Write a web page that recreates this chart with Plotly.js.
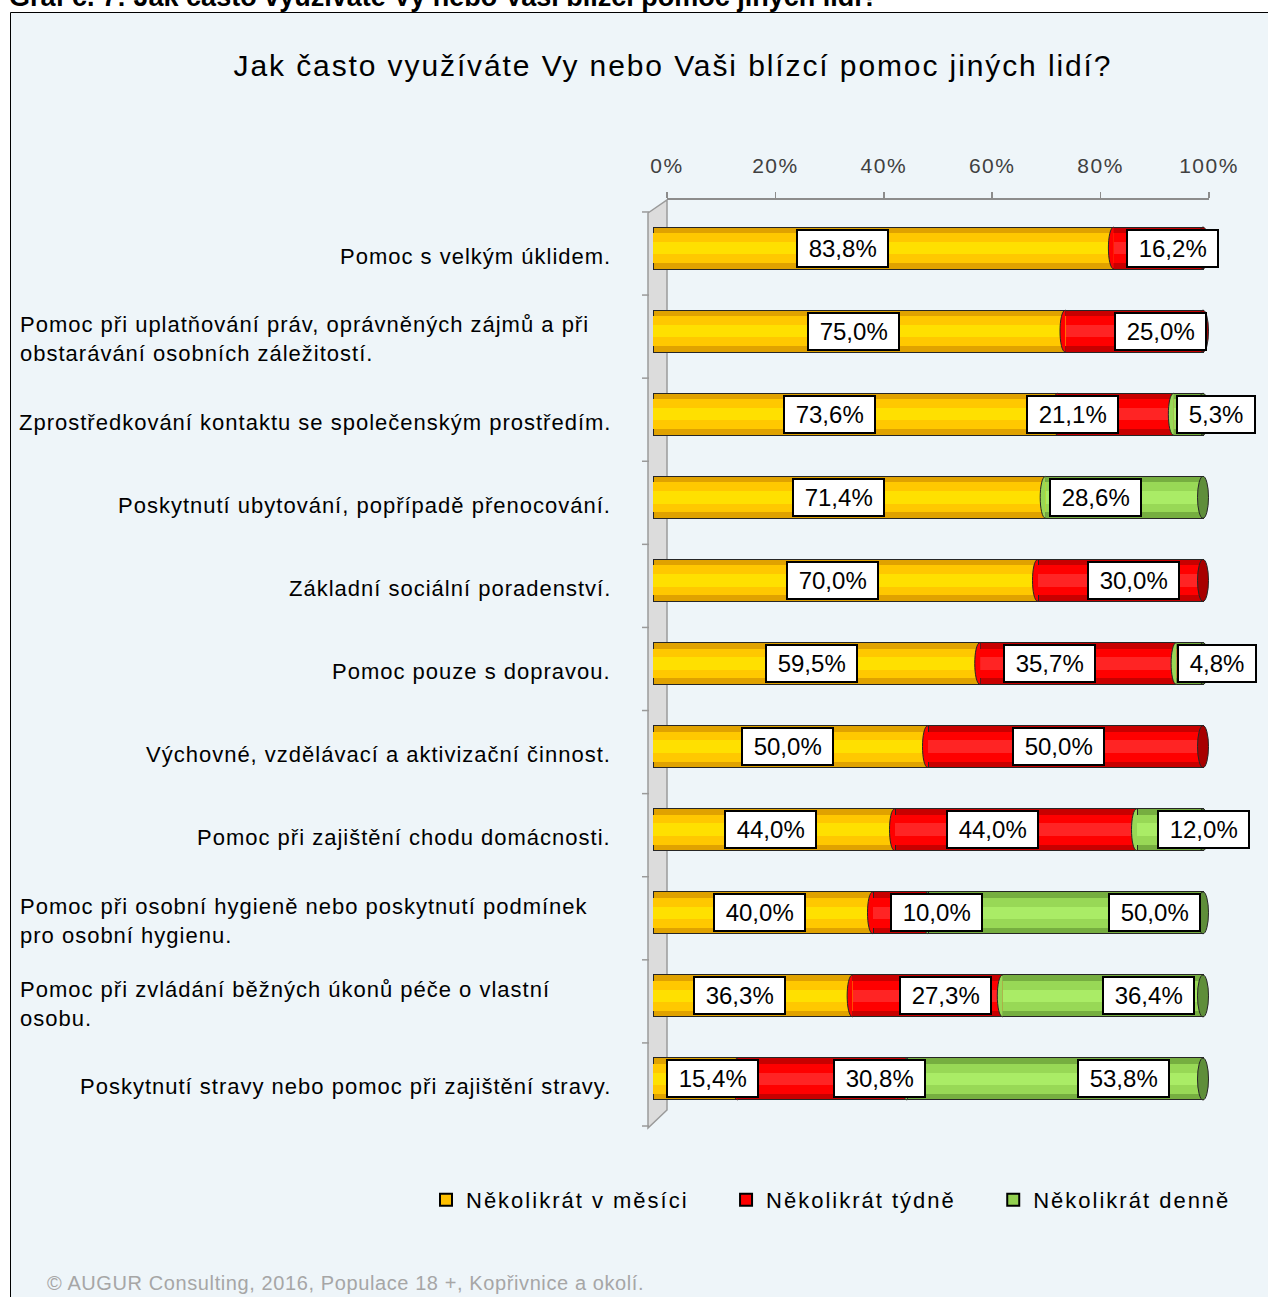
<!DOCTYPE html>
<html><head><meta charset="utf-8">
<script src="https://cdn.plot.ly/plotly-3.0.1.min.js"></script>
<style>
html,body{margin:0;padding:0;background:#fff;}
#chart{width:1268px;height:1297px;}
.gtitle{letter-spacing:1.9px;}
.legendtext{letter-spacing:2px;}
.x2tick text{letter-spacing:1.5px;}
text[style*="Arimo"]{letter-spacing:1px;}
text[style*="Helvetica"]{letter-spacing:0.6px;}
</style>
</head><body><div id="chart"></div>
<script>
// ---------- DATA ----------
const categories = [
  "Pomoc s velkým úklidem.",
  "Pomoc při uplatňování práv, oprávněných zájmů a při<br>obstarávání osobních záležitostí.",
  "Zprostředkování kontaktu se společenským prostředím.",
  "Poskytnutí ubytování, popřípadě přenocování.",
  "Základní sociální poradenství.",
  "Pomoc pouze s dopravou.",
  "Výchovné, vzdělávací a aktivizační činnost.",
  "Pomoc při zajištění chodu domácnosti.",
  "Pomoc při osobní hygieně nebo poskytnutí podmínek<br>pro osobní hygienu.",
  "Pomoc při zvládání běžných úkonů péče o vlastní<br>osobu.",
  "Poskytnutí stravy nebo pomoc při zajištění stravy."
];
const seriesNames = ["Několikrát v měsíci", "Několikrát týdně", "Několikrát denně"];
const monthly = [83.8, 75.0, 73.6, 71.4, 70.0, 59.5, 50.0, 44.0, 40.0, 36.3, 15.4];
const weekly  = [16.2, 25.0, 21.1, 0,    30.0, 35.7, 50.0, 44.0, 10.0, 27.3, 30.8];
const daily   = [0,    0,    5.3,  28.6, 0,    4.8,  0,    12.0, 50.0, 36.4, 53.8];
const tickVals = [0, 20, 40, 60, 80, 100];
const tickText = ["0%", "20%", "40%", "60%", "80%", "100%"];
const chartTitle = "Jak často využíváte Vy nebo Vaši blízcí pomoc jiných lidí?";
const pageHeading = "Graf č. 7: Jak často využíváte Vy nebo Vaši blízcí pomoc jiných lidí?";
const footerText = "© AUGUR Consulting, 2016, Populace 18 +, Kopřivnice a okolí.";

// ---------- LAYOUT HELPERS ----------
// label nudges (in axis % units) relative to segment centre, as placed in the original
const labelNudge = [
  [-7.4, 2.5, 0], [-1, 4.7, 0], [-4.8, -7.95, 5.05], [-1.9, 0, -5.3], [-2.3, 2.3, 0],
  [-0.85, -5.35, 4.9], [-0.6, -1.2, 0], [-0.7, -4.2, 6], [-0.7, 6.6, 16.1],
  [-2.35, 3.15, 8.2], [3.2, 10.3, 12.5]
];
const L = 640, T = 200, W = 622, H = 928;
const xp = px => (px - L) / W;
const yp = py => (T + H - py) / H;
const FONT = "Liberation Sans, Arial, sans-serif";
const FONT_LBL = "Liberation Sans, Arimo, sans-serif";
const FONT_FOOT = "Liberation Sans, Helvetica, sans-serif";

const values = [monthly, weekly, daily];
const colEdge  = ['#E0A200', '#C80000', '#76AE40'];
const colMain  = ['#FFC800', '#FF0000', '#98D856'];
const colLight = ['#FFE000', '#FF2424', '#AAEC66'];
const capDark  = ['#B88600', '#A80000', '#5F8E3A'];
const legendCol = ['#FFC000', '#FF0000', '#92D050'];

const BW = 0.505, RY = BW / 2, RX = 1.0;

const traces = [];
values.forEach((vals, s) => traces.push({
  type: 'bar', orientation: 'h', x: vals, y: categories, xaxis: 'x', yaxis: 'y',
  width: BW, marker: {color: colEdge[s], line: {color: '#262626', width: 1}},
  showlegend: false, hoverinfo: 'skip'
}));
values.forEach((vals, s) => traces.push({
  type: 'bar', orientation: 'h', x: vals, y: categories, xaxis: 'x', yaxis: 'y2',
  width: 0.36, marker: {color: colMain[s], line: {width: 0}}, showlegend: false, hoverinfo: 'skip'
}));
values.forEach((vals, s) => traces.push({
  type: 'bar', orientation: 'h', x: vals, y: categories, xaxis: 'x', yaxis: 'y3',
  width: 0.15, marker: {color: colLight[s], line: {width: 0}}, showlegend: false, hoverinfo: 'skip'
}));
seriesNames.forEach((nm, s) => traces.push({
  type: 'bar', orientation: 'h', name: nm + '\u00A0\u00A0\u00A0\u00A0', x: [null], y: [null], xaxis: 'x', yaxis: 'y',
  marker: {color: legendCol[s], line: {color: '#000', width: 2}}, showlegend: true, hoverinfo: 'skip'
}));
traces.push({type: 'scatter', mode: 'markers', x: [0, 100], y: [categories[0], categories[0]],
  xaxis: 'x2', yaxis: 'y', marker: {opacity: 0}, showlegend: false, hoverinfo: 'skip'});

// ---------- SHAPES ----------
const shapes = [];
shapes.push({type: 'rect', xref: 'paper', yref: 'paper', x0: xp(10.5), x1: xp(1300), y0: yp(12.5), y1: yp(1330),
  fillcolor: '#EEF5F9', line: {color: '#000', width: 1}, layer: 'below'});
shapes.push({type: 'path', xref: 'paper', yref: 'paper', layer: 'below',
  path: `M ${xp(648)},${yp(213)} L ${xp(667)},${yp(200)} L ${xp(667)},${yp(1110)} L ${xp(648)},${yp(1128)} Z`,
  fillcolor: '#DCDCDC', line: {color: '#9A9A9A', width: 1.5}});
for (let k = 0; k <= categories.length; k++) {
  const yy = k - 0.434;
  shapes.push({type: 'line', xref: 'paper', yref: 'y', x0: xp(642), x1: xp(649), y0: yy, y1: yy,
    line: {color: '#9A9A9A', width: 1.5}, layer: 'below'});
}
categories.forEach((c, i) => {
  let cum = 0, last = 0;
  values.forEach((vals, s) => {
    const v = vals[i];
    if (v > 0) {
      const x = cum, k = 4 / 3 * RX;
      shapes.push({type: 'path', xref: 'x', yref: 'y', layer: 'above',
        path: `M ${x},${i - RY} C ${x - k},${i - RY} ${x - k},${i + RY} ${x},${i + RY}`,
        fillcolor: colMain[s], line: {color: '#262626', width: 1}});
      last = s;
    }
    cum += v;
  });
  shapes.push({type: 'circle', xref: 'x', yref: 'y', layer: 'above',
    x0: cum - RX, x1: cum + RX, y0: i - RY, y1: i + RY,
    fillcolor: capDark[last], line: {color: '#262626', width: 1}});
});

// ---------- ANNOTATIONS ----------
const fmt = v => v.toFixed(1).replace('.', ',') + '%';
const annotations = [];
categories.forEach((c, i) => {
  const multi = c.includes('<br>');
  annotations.push({xref: 'paper', yref: 'y', x: multi ? xp(18) : xp(613), y: c, yshift: -8,
    xanchor: multi ? 'left' : 'right', align: multi ? 'left' : 'right', text: c, showarrow: false,
    font: {family: FONT_LBL, size: 22, color: '#000'}});
  let cum = 0;
  values.forEach((vals, s) => {
    const v = vals[i];
    if (v > 0) {
      annotations.push({xref: 'x', yref: 'y', x: cum + v / 2 + labelNudge[i][s], y: c,
        text: '\u00A0' + fmt(v) + '\u00A0', showarrow: false, bgcolor: '#FFFFFF',
        bordercolor: '#000', borderwidth: 2, borderpad: 4,
        font: {family: FONT, size: 24, color: '#000'}});
    }
    cum += v;
  });
});
annotations.push({xref: 'paper', yref: 'paper', x: xp(7), y: yp(13.5), xanchor: 'left', yanchor: 'bottom',
  text: '<b>' + pageHeading + '</b>', showarrow: false, font: {family: FONT, size: 27, color: '#000'}});
annotations.push({xref: 'paper', yref: 'paper', x: xp(45), y: yp(1283), xanchor: 'left', yanchor: 'middle',
  text: footerText, showarrow: false, font: {family: FONT_FOOT, size: 20, color: '#A6A6A6'}});

const yBase = {type: 'category', categoryorder: 'array', categoryarray: categories,
  range: [10.59, -0.578], autorange: false, showticklabels: false, showgrid: false,
  zeroline: false, showline: false, ticks: '', fixedrange: true};

const layout = {
  width: 1268, height: 1297, autosize: false,
  margin: {l: L, r: 1268 - L - W, t: T, b: 1297 - T - H, pad: 0},
  paper_bgcolor: '#FFFFFF', plot_bgcolor: 'rgba(0,0,0,0)',
  barmode: 'stack', hovermode: false,
  title: {text: chartTitle, xref: 'container', yref: 'container', x: 673 / 1268, y: 1 - 65 / 1297,
    xanchor: 'center', yanchor: 'middle', font: {family: FONT, size: 30, color: '#000'}},
  xaxis: {domain: [xp(653), xp(1258)], range: [0, 110], visible: false, fixedrange: true},
  xaxis2: {domain: [xp(667), xp(1209)], range: [0, 100], side: 'top', anchor: 'y',
    tickvals: tickVals, ticktext: tickText, ticks: 'outside', ticklen: 6, tickcolor: '#8C8C8C',
    tickwidth: 1.5, showline: true, linecolor: '#8C8C8C', linewidth: 2, showgrid: false, zeroline: false,
    ticklabelstandoff: 11, tickfont: {family: FONT, size: 21, color: '#404040'}, fixedrange: true},
  yaxis: Object.assign({}, yBase, {anchor: 'x'}),
  yaxis2: Object.assign({}, yBase, {anchor: 'x', overlaying: 'y'}),
  yaxis3: Object.assign({}, yBase, {anchor: 'x', overlaying: 'y'}),
  legend: {orientation: 'h', x: xp(432), xanchor: 'left', y: yp(1200), yanchor: 'middle',
    font: {family: FONT, size: 22, color: '#000'}, bgcolor: 'rgba(0,0,0,0)', traceorder: 'normal'},
  shapes: shapes, annotations: annotations
};

Plotly.newPlot('chart', traces, layout, {displayModeBar: false, staticPlot: true});
</script></body></html>
